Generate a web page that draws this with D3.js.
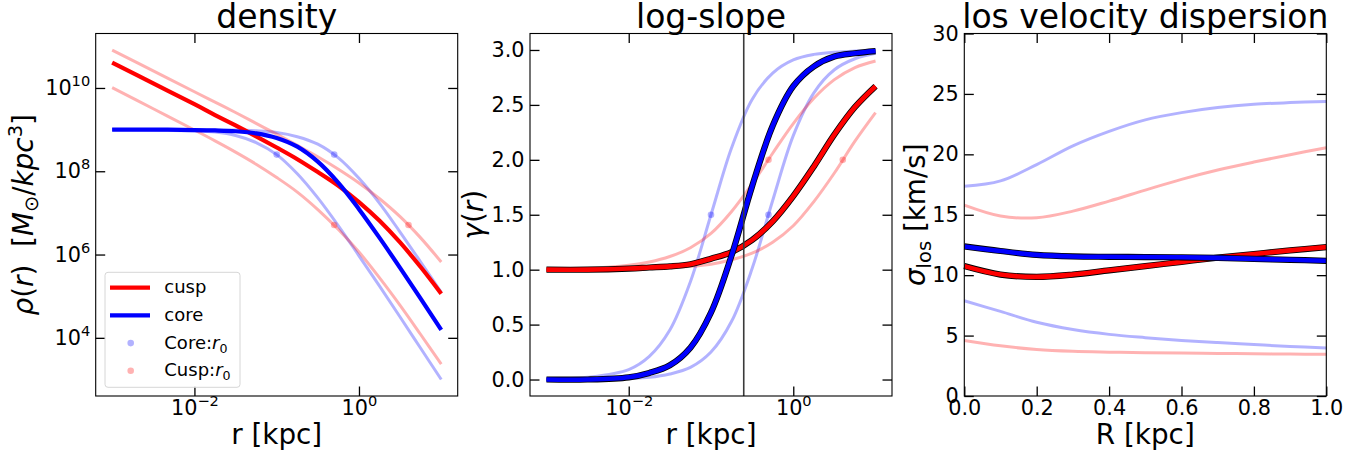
<!DOCTYPE html>
<html>
<head>
<meta charset="utf-8">
<script src="https://cdn.jsdelivr.net/npm/d3@7"></script>
<style>
  body { margin: 0; background: #fff; }
  svg { display: block; font-family: "DejaVu Sans", sans-serif; }
  text { white-space: pre; }
</style>
</head>
<body>
<svg id="chart" width="1361" height="457"></svg>
<script>
//------------------------------------------------------------------------------
//
// Data
//
//------------------------------------------------------------------------------

// radius grid [kpc] shared by the density and log-slope panels
var rGrid = [0.001, 0.00316, 0.01, 0.0178, 0.0316, 0.0562, 0.1, 0.178, 0.316, 0.562, 1, 1.78, 3.16, 5.62, 10];

// log10 density [Msun/kpc^3]
var logRhoCusp      = [10.61, 10.11, 9.61, 9.35, 9.10, 8.84, 8.57, 8.29, 7.98, 7.65, 7.26, 6.81, 6.29, 5.70, 5.06];
var logRhoCuspSmall = [10.01, 9.50, 8.99, 8.73, 8.46, 8.17, 7.85, 7.50, 7.08, 6.60, 6.06, 5.44, 4.78, 4.08, 3.37];
var logRhoCuspLarge = [10.91, 10.41, 9.91, 9.66, 9.41, 9.15, 8.89, 8.62, 8.35, 8.05, 7.72, 7.34, 6.91, 6.40, 5.82];
var logRhoCore      = [9.00, 9.00, 8.99, 8.98, 8.96, 8.91, 8.80, 8.59, 8.23, 7.72, 7.09, 6.40, 5.68, 4.94, 4.19];
var logRhoCoreSmall = [9.00, 8.99, 8.97, 8.94, 8.86, 8.69, 8.40, 7.94, 7.36, 6.69, 5.97, 5.24, 4.50, 3.75, 3.00];
var logRhoCoreLarge = [9.00, 9.00, 9.00, 8.99, 8.99, 8.97, 8.93, 8.83, 8.65, 8.32, 7.83, 7.23, 6.54, 5.82, 5.09];

// log-slope gamma(r)
var slopeCusp      = [1.00, 1.00, 1.01, 1.02, 1.03, 1.05, 1.10, 1.16, 1.27, 1.44, 1.67, 1.94, 2.23, 2.48, 2.67];
var slopeCuspSmall = [1.00, 1.01, 1.04, 1.07, 1.12, 1.20, 1.33, 1.53, 1.78, 2.06, 2.33, 2.56, 2.73, 2.84, 2.90];
var slopeCuspLarge = [1.00, 1.00, 1.00, 1.01, 1.02, 1.03, 1.05, 1.09, 1.15, 1.25, 1.40, 1.62, 1.88, 2.17, 2.43];
var slopeCore      = [0.00, 0.00, 0.02, 0.06, 0.13, 0.29, 0.61, 1.13, 1.76, 2.31, 2.67, 2.85, 2.94, 2.97, 2.99];
var slopeCoreSmall = [0.00, 0.02, 0.09, 0.21, 0.45, 0.89, 1.50, 2.11, 2.55, 2.79, 2.91, 2.96, 2.98, 2.99, 3.00];
var slopeCoreLarge = [0.00, 0.00, 0.01, 0.02, 0.05, 0.11, 0.25, 0.53, 1.01, 1.63, 2.22, 2.61, 2.82, 2.92, 2.97];

// r0 markers
var coreMarkR = [0.1, 0.5];
var coreMarkLogRho = [8.40, 8.40];
var coreMarkSlope = [1.5, 1.5];
var cuspMarkR = [0.5, 4];
var cuspMarkLogRho = [6.71, 6.71];
var cuspMarkSlope = [2.0, 2.0];
var rLine = 0.25;

// projected radius [kpc] and los velocity dispersion [km/s]
var RGrid = [0, 0.1, 0.2, 0.3, 0.4, 0.5, 0.6, 0.7, 0.8, 0.9, 1.0];
var sigmaCusp      = [10.75, 10.05, 9.86, 10.05, 10.40, 10.75, 11.10, 11.45, 11.75, 12.05, 12.32];
var sigmaCuspSmall = [4.60, 4.15, 3.85, 3.70, 3.63, 3.58, 3.55, 3.52, 3.50, 3.47, 3.45];
var sigmaCuspLarge = [15.80, 14.90, 14.75, 15.30, 16.13, 17.04, 17.93, 18.70, 19.36, 19.97, 20.55];
var sigmaCore      = [12.38, 12.00, 11.68, 11.55, 11.52, 11.50, 11.48, 11.43, 11.35, 11.27, 11.19];
var sigmaCoreSmall = [7.88, 7.00, 6.10, 5.50, 5.10, 4.83, 4.60, 4.42, 4.26, 4.10, 3.98];
var sigmaCoreLarge = [17.35, 17.80, 19.15, 20.70, 21.90, 22.85, 23.45, 23.87, 24.14, 24.28, 24.38];

// ticks
var rTicks = [0.01, 1];
var rhoTicks = [1e4, 1e6, 1e8, 1e10];
var slopeTicks = [0, 0.5, 1, 1.5, 2, 2.5, 3];
var RTicks = [0, 0.2, 0.4, 0.6, 0.8, 1.0];
var sigmaTicks = [0, 5, 10, 15, 20, 25, 30];

//------------------------------------------------------------------------------
//
// Layout
//
//------------------------------------------------------------------------------

var RED = "#ff0000", BLUE = "#0000ff";
var W = 362, H = 362.5, TOP = 33.5, TICK = 9.5;
var lefts = [95.7, 530, 964.3];
var FONT = "DejaVu Sans";

var svg = d3.select("#chart");

function pairs(xs, ys) {
  return xs.map(function(v, i) { return [v, ys[i]]; });
}

function panel(i) {
  return svg.append("g").attr("transform", "translate(" + lefts[i] + "," + TOP + ")");
}

function powLabel(sel, d) {
  var e = Math.round(Math.log10(d));
  sel.text(null);
  sel.append("tspan").text("10");
  sel.append("tspan").attr("dy", -9).attr("font-size", 14.6).text(e < 0 ? "\u2212" + (-e) : "" + e);
}

function axes(g, x, y, o) {
  var b = g.append("g").attr("transform", "translate(0," + H + ")")
    .call(d3.axisBottom(x).tickValues(o.xTicks).tickSizeInner(-TICK).tickSizeOuter(0).tickPadding(4).tickFormat(o.xFormat || null));
  g.append("g")
    .call(d3.axisTop(x).tickValues(o.xTicks).tickSizeInner(-TICK).tickSizeOuter(0).tickFormat(""));
  var l = g.append("g")
    .call(d3.axisLeft(y).tickValues(o.yTicks).tickSizeInner(-TICK).tickSizeOuter(0).tickPadding(5.5).tickFormat(o.yFormat || null));
  g.append("g").attr("transform", "translate(" + W + ",0)")
    .call(d3.axisRight(y).tickValues(o.yTicks).tickSizeInner(-TICK).tickSizeOuter(0).tickFormat(""));

  g.selectAll(".domain").remove();
  g.selectAll(".tick line").attr("stroke", "#000").attr("stroke-width", 1.3);
  g.selectAll(".tick text").attr("font-family", FONT).attr("font-size", 20.8).attr("fill", "#000");
  if (o.xLog) b.selectAll(".tick text").each(function(d) { powLabel(d3.select(this), d); });
  if (o.yLog) l.selectAll(".tick text").each(function(d) { powLabel(d3.select(this), d); });
}

function frame(g, title, xlabel) {
  g.append("rect").attr("width", W).attr("height", H)
    .attr("fill", "none").attr("stroke", "#000").attr("stroke-width", 1.1);
  g.append("text").attr("x", W / 2).attr("y", 28 - TOP)
    .attr("text-anchor", "middle").attr("font-size", 33).text(title);
  g.append("text").attr("x", W / 2).attr("y", 444 - TOP)
    .attr("text-anchor", "middle").attr("font-size", 27.8).text(xlabel);
}

function ylabel(g, x) {
  return g.append("text")
    .attr("transform", "translate(" + x + "," + (H / 2) + ") rotate(-90)")
    .attr("text-anchor", "middle").attr("font-size", 27.8);
}

function faint(g, line, data, color) {
  g.append("path").datum(data).attr("d", line)
    .attr("fill", "none").attr("stroke", color).attr("stroke-opacity", 0.3).attr("stroke-width", 3);
}

function main(g, line, data, color, outlined) {
  if (outlined) {
    g.append("path").datum(data).attr("d", line)
      .attr("fill", "none").attr("stroke", "#000").attr("stroke-width", 6.2);
  }
  g.append("path").datum(data).attr("d", line)
    .attr("fill", "none").attr("stroke", color).attr("stroke-width", outlined ? 4.6 : 4.2);
}

function dots(g, pts, x, y, color) {
  g.selectAll(null).data(pts).enter().append("circle")
    .attr("cx", function(d) { return x(d[0]); })
    .attr("cy", function(d) { return y(d[1]); })
    .attr("r", 3.3).attr("fill", color).attr("fill-opacity", 0.3);
}

//------------------------------------------------------------------------------
//
// Density
//
//------------------------------------------------------------------------------

var g1 = panel(0);
var x1 = d3.scaleLog().domain([Math.pow(10, -3.2), Math.pow(10, 1.2)]).range([0, W]);
var y1 = d3.scaleLog().domain([Math.pow(10, 2.603), Math.pow(10, 11.308)]).range([H, 0]);
var rhoLine = d3.line()
  .x(function(d) { return x1(d[0]); })
  .y(function(d) { return y1(Math.pow(10, d[1])); })
  .curve(d3.curveCatmullRom);

faint(g1, rhoLine, pairs(rGrid, logRhoCoreSmall), BLUE);
faint(g1, rhoLine, pairs(rGrid, logRhoCoreLarge), BLUE);
dots(g1, pairs(coreMarkR, coreMarkLogRho.map(function(v) { return Math.pow(10, v); })), x1, y1, BLUE);
faint(g1, rhoLine, pairs(rGrid, logRhoCuspSmall), RED);
faint(g1, rhoLine, pairs(rGrid, logRhoCuspLarge), RED);
dots(g1, pairs(cuspMarkR, cuspMarkLogRho.map(function(v) { return Math.pow(10, v); })), x1, y1, RED);
main(g1, rhoLine, pairs(rGrid, logRhoCusp), RED, false);
main(g1, rhoLine, pairs(rGrid, logRhoCore), BLUE, false);

axes(g1, x1, y1, {xTicks: rTicks, yTicks: rhoTicks, xLog: true, yLog: true});
frame(g1, "density", "r [kpc]");

var yl1 = ylabel(g1, 33 - lefts[0]);
yl1.append("tspan").attr("font-style", "italic").text("\u03c1");
yl1.append("tspan").text("(");
yl1.append("tspan").attr("font-style", "italic").text("r");
yl1.append("tspan").text(")  [");
yl1.append("tspan").attr("font-style", "italic").text("M");
yl1.append("tspan").attr("dy", 5).attr("font-size", 19.5).text("\u2299");
yl1.append("tspan").attr("dy", -5).text("/");
yl1.append("tspan").attr("font-style", "italic").text("kpc");
yl1.append("tspan").attr("dy", -11).attr("font-size", 19.5).text("3");
yl1.append("tspan").attr("dy", 11).text("]");

// legend
var legendItems = [
  {label: "cusp", color: RED, kind: "line"},
  {label: "core", color: BLUE, kind: "line"},
  {label: "Core:", color: BLUE, kind: "dot"},
  {label: "Cusp:", color: RED, kind: "dot"}
];
var lg = g1.append("g").attr("transform", "translate(" + (105 - lefts[0]) + "," + (272.3 - TOP) + ")");
lg.append("rect").attr("width", 135).attr("height", 115).attr("rx", 3)
  .attr("fill", "#fff").attr("fill-opacity", 0.8).attr("stroke", "#d6d6d6").attr("stroke-width", 1);
legendItems.forEach(function(it, i) {
  var cy = 15.4 + i * 27.7;
  if (it.kind === "line") {
    lg.append("line").attr("x1", 5).attr("x2", 45).attr("y1", cy).attr("y2", cy)
      .attr("stroke", it.color).attr("stroke-width", 4.2);
  } else {
    lg.append("circle").attr("cx", 25.7).attr("cy", cy).attr("r", 3.3)
      .attr("fill", it.color).attr("fill-opacity", 0.3);
  }
  var t = lg.append("text").attr("x", 59.3).attr("y", cy + 5.5).attr("font-size", 18).text(it.label);
  if (it.kind === "dot") {
    t.append("tspan").attr("font-style", "italic").text("r");
    t.append("tspan").attr("dy", 4).attr("font-size", 12.6).text("0");
  }
});

//------------------------------------------------------------------------------
//
// Log-slope
//
//------------------------------------------------------------------------------

var g2 = panel(1);
var x2 = d3.scaleLog().domain([Math.pow(10, -3.2), Math.pow(10, 1.2)]).range([0, W]);
var y2 = d3.scaleLinear().domain([-0.15, 3.15]).range([H, 0]);
var slopeLine = d3.line()
  .x(function(d) { return x2(d[0]); })
  .y(function(d) { return y2(d[1]); })
  .curve(d3.curveCatmullRom);

faint(g2, slopeLine, pairs(rGrid, slopeCoreSmall), BLUE);
faint(g2, slopeLine, pairs(rGrid, slopeCoreLarge), BLUE);
dots(g2, pairs(coreMarkR, coreMarkSlope), x2, y2, BLUE);
faint(g2, slopeLine, pairs(rGrid, slopeCuspSmall), RED);
faint(g2, slopeLine, pairs(rGrid, slopeCuspLarge), RED);
dots(g2, pairs(cuspMarkR, cuspMarkSlope), x2, y2, RED);
main(g2, slopeLine, pairs(rGrid, slopeCusp), RED, true);
main(g2, slopeLine, pairs(rGrid, slopeCore), BLUE, true);

g2.append("line").attr("x1", x2(rLine)).attr("x2", x2(rLine)).attr("y1", 0).attr("y2", H)
  .attr("stroke", "#3a3a3a").attr("stroke-width", 1.6);

axes(g2, x2, y2, {xTicks: rTicks, yTicks: slopeTicks, xLog: true, yFormat: d3.format(".1f")});
frame(g2, "log-slope", "r [kpc]");

var yl2 = ylabel(g2, 483 - lefts[1]);
yl2.append("tspan").attr("font-style", "italic").text("\u03b3");
yl2.append("tspan").text("(");
yl2.append("tspan").attr("font-style", "italic").text("r");
yl2.append("tspan").text(")");

//------------------------------------------------------------------------------
//
// LOS velocity dispersion
//
//------------------------------------------------------------------------------

var g3 = panel(2);
var x3 = d3.scaleLinear().domain([0, 1]).range([0, W]);
var y3 = d3.scaleLinear().domain([0, 30]).range([H, 0]);
var sigmaLine = d3.line()
  .x(function(d) { return x3(d[0]); })
  .y(function(d) { return y3(d[1]); })
  .curve(d3.curveCatmullRom);

faint(g3, sigmaLine, pairs(RGrid, sigmaCoreSmall), BLUE);
faint(g3, sigmaLine, pairs(RGrid, sigmaCoreLarge), BLUE);
faint(g3, sigmaLine, pairs(RGrid, sigmaCuspSmall), RED);
faint(g3, sigmaLine, pairs(RGrid, sigmaCuspLarge), RED);
main(g3, sigmaLine, pairs(RGrid, sigmaCusp), RED, true);
main(g3, sigmaLine, pairs(RGrid, sigmaCore), BLUE, true);

axes(g3, x3, y3, {xTicks: RTicks, yTicks: sigmaTicks, xFormat: d3.format(".1f"), yFormat: d3.format("d")});
frame(g3, "los velocity dispersion", "R [kpc]");

var yl3 = ylabel(g3, 924.5 - lefts[2]);
yl3.append("tspan").attr("font-style", "italic").text("\u03c3");
yl3.append("tspan").attr("dy", 6).attr("font-size", 19.5).text("los");
yl3.append("tspan").attr("dy", -6).text(" [km/s]");
</script>
</body>
</html>
